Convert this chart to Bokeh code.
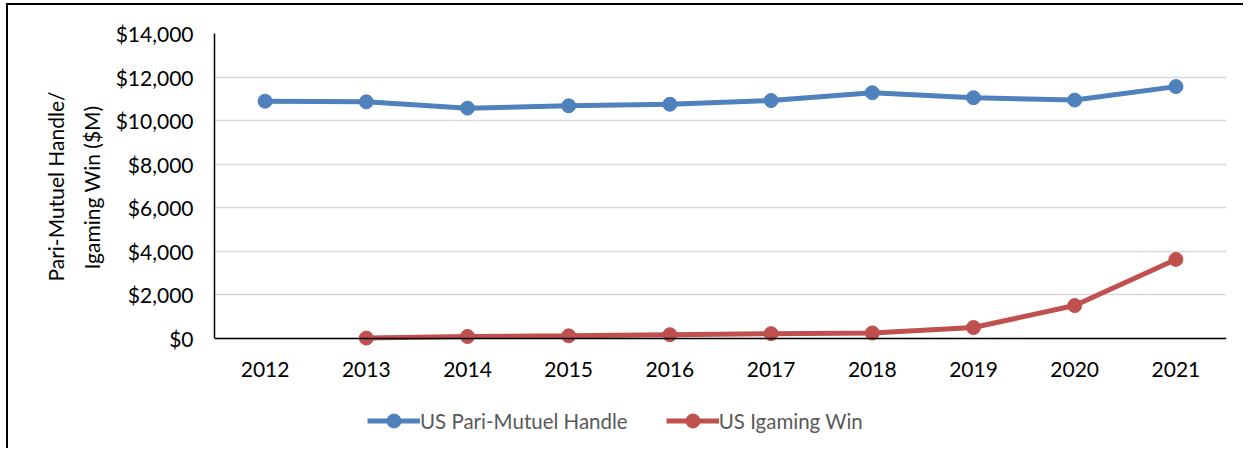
from bokeh.plotting import figure
from bokeh.models import (FactorRange, Range1d, NumeralTickFormatter, Title,
                          FixedTicker, Legend, LegendItem, ColumnDataSource)
from bokeh.embed import file_html
from bokeh.resources import INLINE

# ---- data ----
years = ["2012", "2013", "2014", "2015", "2016", "2017", "2018", "2019", "2020", "2021"]
handle = [10890, 10860, 10570, 10680, 10750, 10920, 11280, 11050, 10940, 11560]
igaming_years = ["2013", "2014", "2015", "2016", "2017", "2018", "2019", "2020", "2021"]
igaming = [5, 80, 110, 160, 210, 240, 490, 1500, 3620]
y_ticks = [0, 2000, 4000, 6000, 8000, 10000, 12000, 14000]
series_names = ["US Pari-Mutuel Handle", "US Igaming Win"]
axis_label_lines = ["Pari-Mutuel Handle/", "Igaming Win ($M)"]

BLUE = "#4F81BD"
RED = "#C0504D"
FONT = "Lato"
FS = "21px"

Y_MAX = 14000
Y_MIN_VIEW = -5160  # room under the axis for tick labels and legend

p = figure(width=1237, height=445, x_range=FactorRange(*years, range_padding=0),
           y_range=Range1d(Y_MIN_VIEW, Y_MAX), output_backend="svg", toolbar_location=None,
           min_border_left=206, min_border_right=19, min_border_top=28, min_border_bottom=0)
p.styles = {"margin-left": "6px", "margin-top": "3px",
            "border-left": "2px solid black", "border-top": "2px solid black"}
p.outline_line_color = None
p.background_fill_color = "white"
p.border_fill_color = "white"

src_h = ColumnDataSource(dict(x=years, y=handle))
src_i = ColumnDataSource(dict(x=igaming_years, y=igaming))

l1 = p.line("x", "y", source=src_h, line_color=BLUE, line_width=5)
c1 = p.scatter("x", "y", source=src_h, size=14, fill_color=BLUE, line_color=BLUE)
l2 = p.line("x", "y", source=src_i, line_color=RED, line_width=5)
c2 = p.scatter("x", "y", source=src_i, size=14, fill_color=RED, line_color=RED)

# grid
p.xgrid.grid_line_color = None
p.ygrid.grid_line_color = "#d9d9d9"
p.ygrid.grid_line_width = 1.5
p.ygrid.ticker = FixedTicker(ticks=y_ticks)

# y axis
ya = p.yaxis[0]
ya.ticker = FixedTicker(ticks=y_ticks)
ya.bounds = (0, Y_MAX)
ya.formatter = NumeralTickFormatter(format="$0,0")
ya.major_tick_out = 0
ya.major_tick_in = 0
ya.minor_tick_line_color = None
ya.axis_line_color = "black"
ya.axis_line_width = 1.5
ya.major_label_text_font = FONT
ya.major_label_text_font_size = FS
ya.major_label_text_color = "black"
ya.major_label_standoff = 21

# two-line y axis title (each line centred on the 0..14000 span)
t2 = Title(text=axis_label_lines[1], align="right", offset=72, standoff=14,
           vertical_align="top",
           text_font=FONT, text_font_size=FS, text_font_style="normal", text_color="black")
t1 = Title(text=axis_label_lines[0], align="right", offset=58, standoff=3,
           vertical_align="top",
           text_font=FONT, text_font_size=FS, text_font_style="normal", text_color="black")
p.add_layout(t2, "left")
p.add_layout(t1, "left")

# x axis, pinned at y = 0
xa = p.xaxis[0]
xa.fixed_location = 0
xa.major_tick_out = 0
xa.major_tick_in = 0
xa.axis_line_color = "black"
xa.axis_line_width = 1.5
xa.major_label_text_font = FONT
xa.major_label_text_font_size = FS
xa.major_label_text_color = "black"
xa.major_label_standoff = 24

# legend
legend = Legend(items=[LegendItem(label=series_names[0], renderers=[l1, c1]),
                       LegendItem(label=series_names[1], renderers=[l2, c2])],
                orientation="horizontal", location=(153, 12),
                glyph_width=53, glyph_height=35, label_standoff=0, spacing=38,
                padding=0, margin=0, border_line_color=None,
                background_fill_alpha=0,
                label_text_font=FONT, label_text_font_size="20.5px",
                label_text_color="#595959")
p.add_layout(legend, "center")

open("out.html", "w").write(file_html(p, INLINE))
